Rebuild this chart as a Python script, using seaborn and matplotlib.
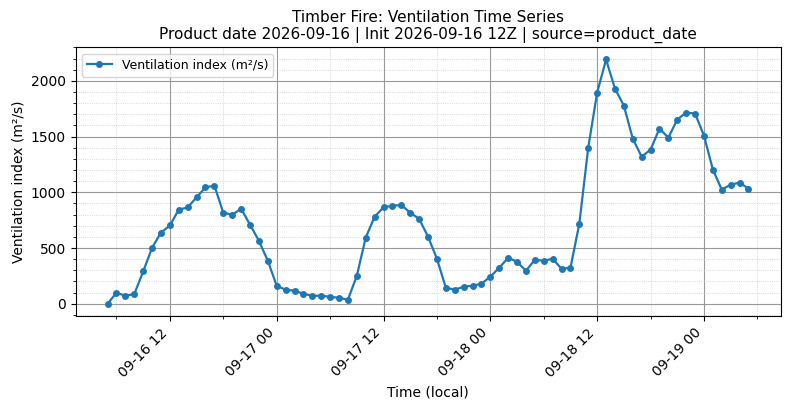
import pandas as pd
import numpy as np
import seaborn as sns
import matplotlib.pyplot as plt
import matplotlib.dates as mdates
from matplotlib.ticker import MultipleLocator

start = '2026-09-16 05:00'
vent = [0, 99, 72, 87, 290, 503, 638, 703, 844, 865, 955, 1045, 1060, 817, 799, 853,
        710, 566, 386, 162, 126, 117, 90, 72, 72, 63, 54, 36, 251, 593, 781, 865,
        880, 886, 817, 763, 602, 404, 144, 126, 153, 162, 180, 243, 323, 413, 377, 296,
        395, 386, 404, 314, 323, 719, 1401, 1895, 2192, 1931, 1778, 1482, 1320, 1383,
        1572, 1491, 1653, 1716, 1707, 1509, 1204, 1024, 1069, 1087, 1033]
times = pd.date_range(start, periods=len(vent), freq='h')

df = pd.DataFrame({'time': times, 'vent': vent})

fig, ax = plt.subplots(figsize=(7.9, 4.09), dpi=100)
sns.lineplot(data=df, x='time', y='vent', ax=ax, marker='o', markersize=5,
             markeredgewidth=0, color='#1f77b4', linewidth=1.6,
             label='Ventilation index (m²/s)')

ax.set_title('Timber Fire: Ventilation Time Series\nProduct date 2026-09-16 | Init 2026-09-16 12Z | source=product_date',
             fontsize=11)
ax.set_xlabel('Time (local)')
ax.set_ylabel('Ventilation index (m²/s)')

ax.xaxis.set_major_locator(mdates.HourLocator(byhour=[0, 12]))
ax.xaxis.set_minor_locator(mdates.HourLocator(byhour=[6, 18]))
ax.xaxis.set_major_formatter(mdates.DateFormatter('%m-%d %H'))
ax.yaxis.set_minor_locator(MultipleLocator(100))
plt.setp(ax.get_xticklabels(), rotation=45, ha='right')

ax.grid(which='major', color='#999999', linewidth=0.8)
ax.grid(which='minor', color='#cccccc', linestyle=':', linewidth=0.6)
ax.legend(loc='upper left', fontsize=9)

fig.subplots_adjust(left=0.0956, right=0.988, top=0.8844, bottom=0.2274)
fig.savefig('out.png', dpi=100)
